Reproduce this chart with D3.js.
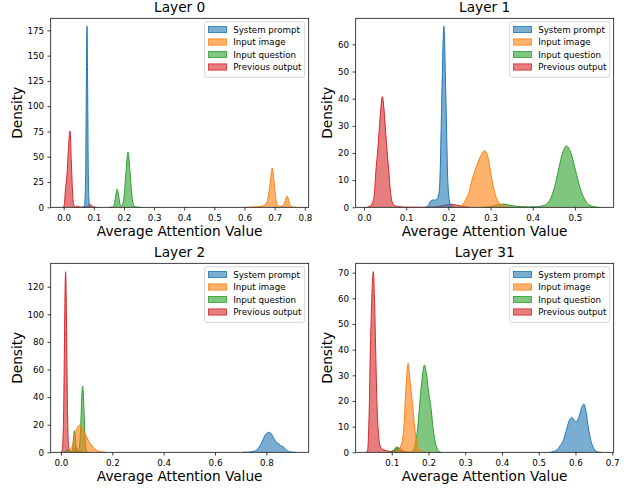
<!DOCTYPE html>
<html>
<head>
<meta charset="utf-8">
<script src="https://cdnjs.cloudflare.com/ajax/libs/d3/7.8.5/d3.min.js"></script>
<style>
  body { margin: 0; background: #fff; }
  text { font-family: "DejaVu Sans", sans-serif; fill: #000; }
</style>
</head>
<body>
<script>
// legend / hue order
const seriesNames = ["System prompt", "Input image", "Input question", "Previous output"];
const seriesColors = ["#1f77b4", "#ff7f0e", "#2ca02c", "#d62728"];

// Layer 0 : [attention value, density]
const layer0System = [[0.062,0],[0.066,0.5],[0.069,2],[0.0715,12],[0.0735,45],[0.0755,130],[0.0775,179],[0.0795,120],[0.0815,40],[0.0835,10],[0.086,1.5],[0.09,0]];
const layer0Image = [[0.60,0],[0.63,0.3],[0.655,1],[0.6716,3.5],[0.6784,10],[0.6852,23.6],[0.692,38.9],[0.6988,23.6],[0.7056,5.3],[0.712,1.2],[0.72,0.8],[0.7296,2.7],[0.7353,6.8],[0.741,11.2],[0.7467,6.8],[0.7524,1.5],[0.76,0.2],[0.775,0]];
const layer0Question = [[0.15,0],[0.1625,0.2],[0.1675,2.4],[0.1725,11],[0.1775,18],[0.1825,11],[0.1875,2.6],[0.1919,1.2],[0.1991,7.4],[0.2063,33],[0.2135,54.4],[0.2207,33],[0.2279,7.4],[0.2351,0.8],[0.245,0.1],[0.26,0]];
const layer0Output = [[-0.004,0],[0,0.5],[0.003,5],[0.006,18],[0.009,25],[0.012,36],[0.0165,62],[0.021,75.4],[0.0255,45],[0.03,12],[0.034,2],[0.038,0.3],[0.043,0.8],[0.047,1.2],[0.052,0.3],[0.06,0.1],[0.075,0.3],[0.082,1.5],[0.088,3],[0.094,1.5],[0.1,0.2],[0.11,0]];

// Layer 1
const layer1System = [[0.145,0],[0.153,0.8],[0.158,2.3],[0.163,2.7],[0.168,2.6],[0.173,3],[0.1775,5],[0.1797,9],[0.1845,40.5],[0.1893,66.7],[0.1941,40.5],[0.1989,9],[0.2037,1.5],[0.209,0.2],[0.215,0]];
const layer1Image = [[0.22,0],[0.228,0.3],[0.235,1.2],[0.242,3],[0.249,5.5],[0.256,10],[0.263,13.5],[0.27,16.5],[0.277,19],[0.2857,20.8],[0.292,19.5],[0.298,15],[0.303,10.4],[0.309,6],[0.315,3],[0.321,1.5],[0.328,0.8],[0.336,0.3],[0.345,0]];
const layer1Question = [[0.28,0],[0.3,0.3],[0.318,0.9],[0.331,1.2],[0.345,0.8],[0.365,0.3],[0.39,0.15],[0.413,0.2],[0.423,0.6],[0.4325,1.2],[0.442,3.1],[0.4515,7.3],[0.461,13.7],[0.4705,19.9],[0.48,22.6],[0.4907,19.9],[0.5013,13.7],[0.512,7.3],[0.5226,3.1],[0.533,1],[0.544,0.25],[0.556,0]];
const layer1Output = [[0.006,0],[0.0135,0.4],[0.0204,1.8],[0.0243,4.5],[0.0281,13.2],[0.032,20],[0.0358,28],[0.0397,36],[0.0435,40.7],[0.0474,36],[0.0512,28],[0.055,20],[0.0589,13.2],[0.0628,5.5],[0.0666,2],[0.0743,0.5],[0.085,0.2],[0.1,0.05],[0.14,0],[0.17,0.2],[0.19,0.8],[0.205,1.1],[0.22,0.8],[0.235,0.3],[0.25,0]];

// Layer 2
const layer2System = [[0.705,0],[0.725,0.1],[0.74,0.3],[0.748,0.6],[0.758,1.2],[0.768,2.6],[0.778,5.5],[0.788,9.5],[0.797,13],[0.8105,14.5],[0.82,13.2],[0.828,10.5],[0.836,8],[0.845,6.5],[0.855,5],[0.865,4],[0.875,2.3],[0.883,1],[0.891,0.4],[0.9,0.1],[0.915,0]];
const layer2Image = [[0.02,0],[0.03,0.5],[0.038,2],[0.045,5],[0.05,9],[0.055,13],[0.06,16],[0.066,18.5],[0.074,19.8],[0.08,18.5],[0.088,15.5],[0.095,13],[0.1,11.3],[0.108,8],[0.119,5.3],[0.128,3],[0.139,1.5],[0.15,0.5],[0.16,0.15],[0.175,0]];
const layer2Question = [[0.012,0],[0.018,0.6],[0.024,2],[0.03,0.8],[0.036,0.2],[0.0411,0.3],[0.0449,2.1],[0.0487,9.5],[0.0525,15.7],[0.0563,9.5],[0.0601,2.1],[0.0639,0.3],[0.0679,0.6],[0.07065,2.1],[0.0734,6.5],[0.07615,15.6],[0.0789,29.1],[0.08165,42.4],[0.0844,48],[0.08715,42.4],[0.0899,29.1],[0.09265,15.6],[0.0954,6.5],[0.09815,2.1],[0.1009,0.54],[0.106,0]];
const layer2Output = [[0,0],[0.0048,1.5],[0.007,5.8],[0.0092,17.7],[0.0114,42.6],[0.0136,79.4],[0.0158,115.5],[0.018,130.9],[0.0202,115.5],[0.0224,79.4],[0.0246,42.6],[0.0268,17.7],[0.029,5.8],[0.032,2.5],[0.036,1],[0.042,0.3],[0.048,0.8],[0.053,2.5],[0.058,3.8],[0.063,2.5],[0.068,0.6],[0.075,0.1],[0.085,0]];

// Layer 31
const layer31System = [[0.53,0],[0.54,0.3],[0.55,1],[0.558,2.5],[0.5675,4.8],[0.575,8.5],[0.582,12],[0.59,13.6],[0.597,12.5],[0.6025,11.9],[0.61,14],[0.617,17.5],[0.623,18.8],[0.628,16.5],[0.632,12.5],[0.636,8.7],[0.642,4.5],[0.648,2],[0.655,0.6],[0.662,0.1],[0.67,0]];
const layer31Image = [[0.11,0],[0.116,0.4],[0.122,1.5],[0.126,3],[0.13,5.5],[0.134,12],[0.137,21],[0.141,30],[0.1445,34.7],[0.147,32],[0.15,27.5],[0.154,22],[0.157,18.4],[0.161,11.5],[0.166,5.5],[0.171,2.2],[0.176,0.8],[0.182,0.2],[0.19,0]];
const layer31Question = [[0.095,0],[0.104,0.5],[0.109,1.5],[0.113,2.1],[0.118,1.5],[0.125,0.6],[0.135,0.1],[0.15,0.1],[0.157,0.6],[0.162,2],[0.167,5.5],[0.171,10],[0.175,17],[0.18,25],[0.185,31.5],[0.189,34],[0.194,31],[0.2,24],[0.207,17],[0.212,10],[0.217,5],[0.222,2],[0.227,0.5],[0.235,0]];
const layer31Output = [[0.03,0],[0.0346,1],[0.037,8],[0.0395,22],[0.0409,34],[0.044,52],[0.047,65],[0.0499,70.4],[0.053,60],[0.0555,45],[0.0572,34],[0.06,18],[0.063,9],[0.066,4.1],[0.07,2],[0.075,1.2],[0.082,0.8],[0.089,0.5],[0.095,0.3],[0.1,0.5],[0.108,1],[0.1164,1.9],[0.124,1.2],[0.132,0.4],[0.14,0]];

// ticks
const xTicks0 = [0, 0.1, 0.2, 0.3, 0.4, 0.5, 0.6, 0.7, 0.8];
const yTicks0 = [0, 25, 50, 75, 100, 125, 150, 175];
const xTicks1 = [0, 0.1, 0.2, 0.3, 0.4, 0.5];
const yTicks1 = [0, 10, 20, 30, 40, 50, 60];
const xTicks2 = [0, 0.2, 0.4, 0.6, 0.8];
const yTicks2 = [0, 20, 40, 60, 80, 100, 120];
const xTicks31 = [0.1, 0.2, 0.3, 0.4, 0.5, 0.6, 0.7];
const yTicks31 = [0, 10, 20, 30, 40, 50, 60, 70];

const panels = [
  { title: "Layer 0", col: 0, row: 0, xDom: [-0.043, 0.813], yDom: [0, 186.9], xTicks: xTicks0, yTicks: yTicks0,
    data: [layer0System, layer0Image, layer0Question, layer0Output] },
  { title: "Layer 1", col: 1, row: 0, xDom: [-0.0197, 0.592], yDom: [0, 69.6], xTicks: xTicks1, yTicks: yTicks1,
    data: [layer1System, layer1Image, layer1Question, layer1Output] },
  { title: "Layer 2", col: 0, row: 1, xDom: [-0.040, 0.965], yDom: [0, 137], xTicks: xTicks2, yTicks: yTicks2,
    data: [layer2System, layer2Image, layer2Question, layer2Output] },
  { title: "Layer 31", col: 1, row: 1, xDom: [0.0019, 0.704], yDom: [0, 73.65], xTicks: xTicks31, yTicks: yTicks31,
    data: [layer31System, layer31Image, layer31Question, layer31Output] }
];

const width = 624, height = 489;
const colLeft = [50.7, 355.7], rowTop = [18.3, 263.3];
const boxW = 258, boxH = 189;
const yLabelOff = [32.4, 27.4];

const svg = d3.select("body").append("svg")
  .attr("width", width).attr("height", height);

panels.forEach((p, pi) => {
  const left = colLeft[p.col], top = rowTop[p.row];
  const g = svg.append("g").attr("transform", `translate(${left},${top})`);

  const x = d3.scaleLinear().domain(p.xDom).range([0, boxW]);
  const y = d3.scaleLinear().domain(p.yDom).range([boxH, 0]);

  g.append("clipPath").attr("id", "clip" + pi)
    .append("rect").attr("width", boxW).attr("height", boxH);

  const area = d3.area()
    .x(d => x(d[0])).y0(y(0)).y1(d => y(d[1]))
    .curve(d3.curveMonotoneX);
  const line = d3.line()
    .x(d => x(d[0])).y(d => y(d[1]))
    .curve(d3.curveMonotoneX);

  const plot = g.append("g").attr("clip-path", `url(#clip${pi})`);
  // seaborn draws hue levels in reverse, first level ends up on top
  for (let i = p.data.length - 1; i >= 0; i--) {
    plot.append("path").datum(p.data[i])
      .attr("d", area)
      .attr("fill", seriesColors[i])
      .attr("fill-opacity", 0.6);
    plot.append("path").datum(p.data[i])
      .attr("d", line)
      .attr("fill", "none")
      .attr("stroke", seriesColors[i])
      .attr("stroke-width", 1);
  }

  const fmtX = d3.format(".1f");
  const xAxis = g.append("g").attr("transform", `translate(0,${boxH})`)
    .call(d3.axisBottom(x).tickValues(p.xTicks).tickFormat(fmtX).tickSize(3.2).tickPadding(4).tickSizeOuter(0));
  const yAxis = g.append("g")
    .call(d3.axisLeft(y).tickValues(p.yTicks).tickFormat(d3.format("d")).tickSize(3.2).tickPadding(3.5).tickSizeOuter(0));
  [xAxis, yAxis].forEach(a => {
    a.select(".domain").remove();
    a.selectAll("line").attr("stroke", "#000").attr("stroke-width", 0.75);
    a.selectAll("text").style("font-size", "8.7px").style("font-family", "DejaVu Sans").attr("fill", "#000");
  });

  // axes frame
  g.append("rect")
    .attr("width", boxW).attr("height", boxH)
    .attr("fill", "none").attr("stroke", "#000").attr("stroke-width", 0.75);

  g.append("text")
    .attr("x", boxW / 2).attr("y", -6)
    .attr("text-anchor", "middle")
    .style("font-size", "13.7px")
    .text(p.title);

  g.append("text")
    .attr("x", boxW / 2).attr("y", boxH + 28.7)
    .attr("text-anchor", "middle")
    .style("font-size", "13.7px")
    .text("Average Attention Value");

  g.append("text")
    .attr("transform", `translate(${-yLabelOff[p.col]},${boxH / 2}) rotate(-90)`)
    .attr("text-anchor", "middle")
    .attr("dy", "0.3em")
    .style("font-size", "13.7px")
    .text("Density");

  // legend
  const lgW = 100, lgH = 55.5;
  const lg = g.append("g").attr("transform", `translate(${boxW - 4 - lgW},${3.5})`);
  lg.append("rect")
    .attr("width", lgW).attr("height", lgH)
    .attr("rx", 2).attr("ry", 2)
    .attr("fill", "#fff").attr("fill-opacity", 0.8)
    .attr("stroke", "#cccccc").attr("stroke-width", 0.8);
  seriesNames.forEach((name, i) => {
    const cy = 7.7 + i * 12.5;
    lg.append("rect")
      .attr("x", 3.8).attr("y", cy - 3.1)
      .attr("width", 18).attr("height", 6.2)
      .attr("fill", seriesColors[i]).attr("fill-opacity", 0.6)
      .attr("stroke", seriesColors[i]).attr("stroke-width", 0.8);
    lg.append("text")
      .attr("x", 28.5).attr("y", cy)
      .attr("dy", "0.35em")
      .style("font-size", "8.7px")
      .text(name);
  });
});
</script>
</body>
</html>
